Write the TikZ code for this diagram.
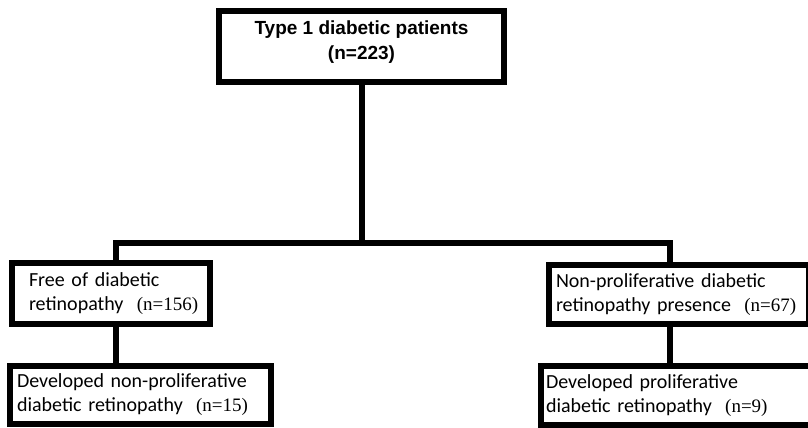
\documentclass[tikz,border=0pt]{standalone}
\usepackage{fontspec}
\setmainfont{Carlito}
\newfontfamily\headfont{Liberation Sans}
\newfontfamily\numfont{Liberation Serif}
\newcommand{\nval}[1]{{\numfont\fontsize{19pt}{24pt}\selectfont #1}}
\begin{document}
\begin{tikzpicture}[x=1pt,y=-1pt,
  boxstyle/.style={draw=black, line width=6pt, inner ysep=0pt, align=left,
    font=\fontsize{20pt}{24pt}\selectfont},
  headstyle/.style={draw=black, line width=6pt, inner sep=0pt, align=center,
    font=\headfont\bfseries\fontsize{19pt}{25pt}\selectfont},
  conn/.style={draw=black, line width=6pt, line join=miter, line cap=butt}]
\useasboundingbox (0,0) rectangle (808,428);
% boxes
\node[headstyle, minimum width=285pt, minimum height=71pt] (top) at (361.5,46.5)
  {Type 1 diabetic patients\\(n=223)\rule[-12pt]{0pt}{0pt}};
\node[boxstyle, inner xsep=17pt, text width=164pt, minimum height=61pt] (L1) at (111,293.5)
  {\mbox{Free of diabetic}\\\mbox{retinopathy\ \ \nval{(n=156)}}};
\node[boxstyle, inner xsep=7pt, text width=247pt, minimum height=58pt] (L2) at (140.5,395)
  {\mbox{Developed non-proliferative}\\\mbox{diabetic retinopathy\ \ \nval{(n=15)}}};
\node[boxstyle, inner xsep=7pt, text width=246pt, minimum height=59pt] (R1) at (679,294.5)
  {\mbox{Non-proliferative diabetic}\\\mbox{retinopathy presence\ \ \nval{(n=67)}}};
\node[boxstyle, inner xsep=5pt, text width=261pt, minimum height=59pt] (R2) at (676.5,395.5)
  {\mbox{Developed proliferative}\\\mbox{diabetic retinopathy\ \ \nval{(n=9)}}};
% connectors
\coordinate (barL) at (116,243);
\coordinate (barR) at (669.5,243);
\draw[conn] (top.south) -- (top.south |- barL);
\draw[conn] (barL |- L1.north) -- (barL) -- (barR) -- (barR |- R1.north);
\draw[conn] (barL |- L1.south) -- (barL |- L2.north);
\draw[conn] (barR |- R1.south) -- (barR |- R2.north);
\end{tikzpicture}
\end{document}
